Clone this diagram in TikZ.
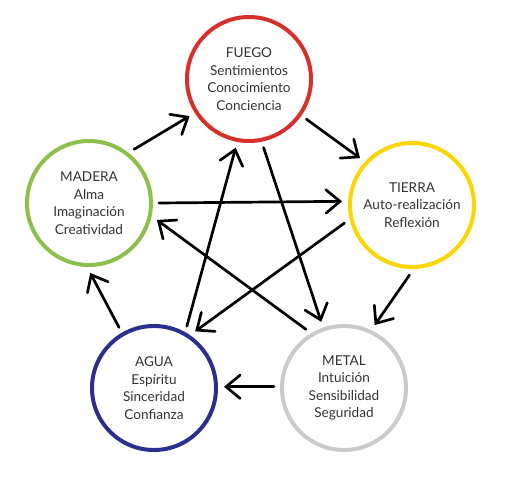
\documentclass[tikz,border=0pt]{standalone}
\usepackage{fontspec}
\setmainfont{Lato}
\usetikzlibrary{arrows.meta}
\definecolor{fuegored}{HTML}{D7302A}
\definecolor{tierrayellow}{HTML}{FDD500}
\definecolor{maderagreen}{HTML}{8CC04A}
\definecolor{aguablue}{HTML}{2A2E8E}
\definecolor{metalgray}{HTML}{CACACA}
\definecolor{textgray}{HTML}{333333}
\begin{document}
\begin{tikzpicture}[x=0.03cm,y=-0.03cm,
    elem/.style={circle,line width=3.4pt,minimum size=3.72cm,inner sep=0pt,
                 outer sep=0.24cm,align=center,text=textgray,
                 font=\fontsize{11.6}{15}\selectfont},
    flow/.style={line width=2.3pt,line cap=round,
                 -{Straight Barb[length=12pt,width=20pt,line cap=round]}}]
  \useasboundingbox[fill=white] (0,0) rectangle (507,480);
  % the five elements
  \node[elem,draw=fuegored]     (fuego)  at (249,79)  {FUEGO\\Sentimientos\\Conocimiento\\Conciencia};
  \node[elem,draw=tierrayellow] (tierra) at (412,205) {TIERRA\\Auto-realización\\Reflexión};
  \node[elem,draw=metalgray]    (metal)  at (344,388) {METAL\\Intuición\\Sensibilidad\\Seguridad};
  \node[elem,draw=aguablue]     (agua)   at (154,388) {AGUA\\Espíritu\\Sinceridad\\Confianza};
  \node[elem,draw=maderagreen]  (madera) at (89,203)  {MADERA\\Alma\\Imaginación\\Creatividad};
  % outer cycle
  \draw[flow] (madera.50)  -- (fuego.212);
  \draw[flow] (fuego.325)  -- (tierra.138);
  \draw[flow] (tierra.268) -- (metal.64);
  \draw[flow] (metal.179)  -- (agua.1);
  \draw[flow] (agua.120)   -- (madera.271);
  % inner star
  \draw[flow] (madera.0)   -- (tierra.177);
  \draw[flow] (fuego.282)  -- (metal.109);
  \draw[flow] (metal.123)  -- (madera.346);
  \draw[flow] (tierra.195) -- (agua.54);
  \draw[flow] (agua.62)    -- (fuego.259);
\end{tikzpicture}
\end{document}
